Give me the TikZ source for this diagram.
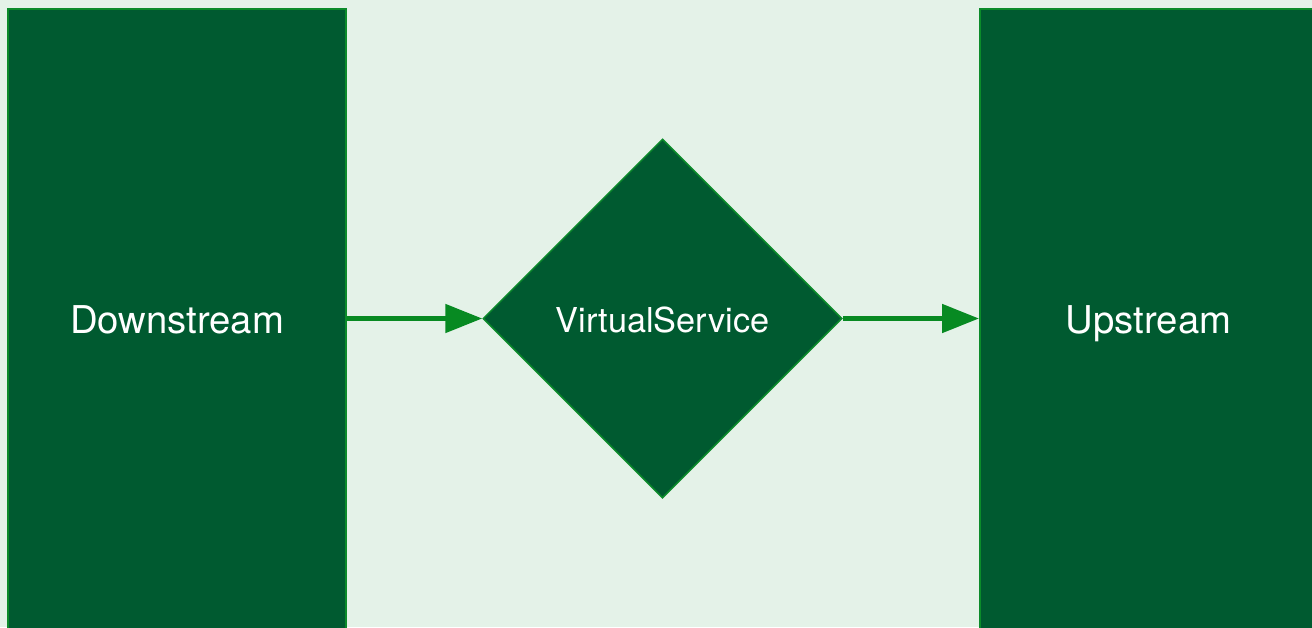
\documentclass[tikz,border=0pt]{standalone}
\usepackage{fontspec}
\setmainfont{TeX Gyre Heros}
\usetikzlibrary{shapes.geometric,arrows.meta}
\definecolor{bgmint}{HTML}{E4F2E8}
\definecolor{deepgreen}{HTML}{005A30}
\definecolor{edgegreen}{HTML}{0B8B2A}
\definecolor{flowgreen}{HTML}{078A22}
\tikzset{
  block/.style={rectangle, draw=edgegreen, fill=deepgreen, line width=2pt,
    inner sep=0pt, text=white, font=\fontsize{38.3}{45}\selectfont,
    text height=28pt, text depth=0pt},
  gate/.style={diamond, draw=edgegreen, fill=deepgreen, line width=1.5pt,
    inner sep=0pt, minimum width=359pt, minimum height=359pt, text=white,
    font=\fontsize{34.3}{41}\selectfont, text height=27pt, text depth=0pt},
  flow/.style={draw=flowgreen, line width=5pt,
    -{Triangle[length=37pt,width=28pt]}}
}
\begin{document}
\begin{tikzpicture}[x=1pt,y=-1pt]
  \useasboundingbox (0,0) rectangle (1312,627);
  \fill[bgmint] (0,0) rectangle (1312,627);
  \clip (0,0) rectangle (1312,627);

  \node[block, minimum width=338pt, minimum height=620pt] (down) at (177,319) {Downstream};
  \node[block, minimum width=337pt, minimum height=620pt] (up) at (1148.5,319) {Upstream};
  \node[gate] (vs) at (662.5,318.5) {VirtualService};

  \draw[flow] (down.east |- vs.west) -- (vs.west);
  \draw[flow] (vs.east) -- (up.west |- vs.east);
\end{tikzpicture}
\end{document}
